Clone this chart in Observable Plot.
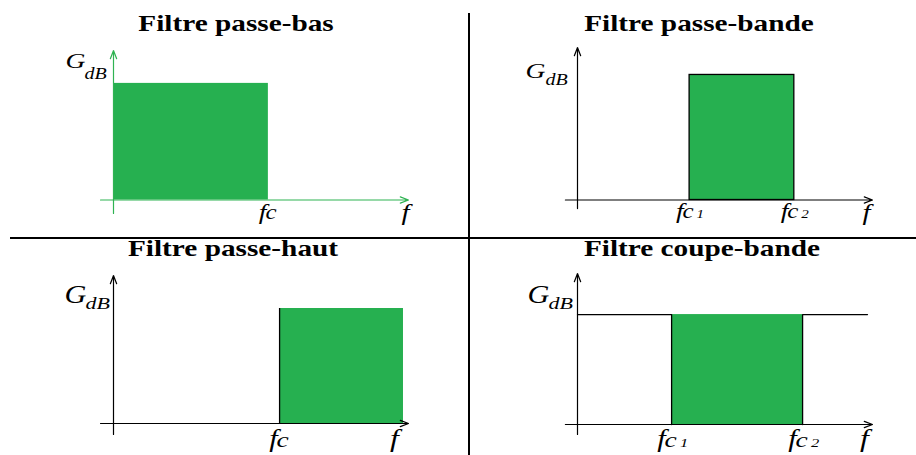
<!DOCTYPE html>
<html>
<head>
<meta charset="utf-8">
<script src="https://cdn.jsdelivr.net/npm/d3@7"></script>
<script src="https://cdn.jsdelivr.net/npm/@observablehq/plot@0.6"></script>
<style>
  html, body { margin: 0; padding: 0; background: #fff; }
  #chart { position: relative; width: 916px; height: 455px; overflow: hidden; font-family: "Liberation Serif", "Times New Roman", serif; }
  .panel { position: absolute; }
  .panel svg { overflow: visible; }
  .title { position: absolute; font-weight: bold; font-size: 24px; line-height: 24px; white-space: nowrap; color: #000;
           transform: translateX(-50%) scaleX(1.22); transform-origin: 50% 50%; }
  .divider { position: absolute; background: #000; }
</style>
</head>
<body>
<div id="chart"></div>
<script>
// ---------- data (relative units: f axis 0..1, gain axis 0..1) ----------
const titles = ["Filtre passe-bas", "Filtre passe-bande", "Filtre passe-haut", "Filtre coupe-bande"];
const kinds = ["bas", "bande", "haut", "coupe"];
const fc1 = [0.525, 0.38, 0.563, 0.319];      // first cut-off frequency
const fc2 = [null, 0.735, null, 0.763];       // second cut-off frequency
const fEnd = [null, null, 0.983, 0.983];      // end of drawn response
const gain = [0.78, 0.82, 0.777, 0.728];      // pass-band gain level
const cutoffIndex = [[""], ["1", "2"], [""], ["1", "2"]];
const yLabel = ["G", "dB"];
const xLabel = "f";

// ---------- layout / style ----------
const green = "#26b050";
const stretch = 1.25;   // horizontal stretch of the labels
const layout = [
  {left: 0,   top: 0,   width: 458, height: 237, ml: 113, mr: 50, mt: 50, mb: 37.5, axis: "#2fb352", fs: 1,
   titleX: 236, titleTop: 11, gDx: -48, gDy: 17, dbDx: -29, dbDy: 28, tickDy: 18.5, fDx: -3, fDy: 19.5, yFrom: -0.09, xFrom: -0.044},
  {left: 458, top: 0,   width: 458, height: 237, ml: 119, mr: 44, mt: 47, mb: 37.5, axis: "#000", fs: 1,
   titleX: 699, titleTop: 11, gDx: -52, gDy: 30, dbDx: -32, dbDy: 37, tickDy: 17.5, fDx: -6, fDy: 19.5, yFrom: -0.056, xFrom: -0.041},
  {left: 0,   top: 237, width: 458, height: 218, ml: 113, mr: 50, mt: 38, mb: 32, axis: "#000", fs: 1.1,
   titleX: 233, titleTop: 236, gDx: -49, gDy: 27, dbDx: -28, dbDy: 33, tickDy: 23, fDx: -14, fDy: 23, yFrom: -0.074, xFrom: -0.044},
  {left: 458, top: 237, width: 458, height: 218, ml: 119, mr: 44, mt: 36, mb: 31, axis: "#000", fs: 1.1,
   titleX: 702, titleTop: 236, gDx: -50, gDy: 29, dbDx: -29, dbDy: 35, tickDy: 22, fDx: -8, fDy: 22, yFrom: -0.066, xFrom: -0.041}
];

const chart = document.getElementById("chart");

// dividers
const vdiv = document.createElement("div");
vdiv.className = "divider";
Object.assign(vdiv.style, {left: "468px", top: "13px", width: "2px", height: "442px"});
const hdiv = document.createElement("div");
hdiv.className = "divider";
Object.assign(hdiv.style, {left: "10px", top: "236.5px", width: "906px", height: "2px"});

titles.forEach((title, i) => {
  const L = layout[i];
  const g = gain[i];
  const kind = kinds[i];

  // band drawn in green
  let band;
  if (kind === "bas") band = [{x1: 0, x2: fc1[i], y1: 0, y2: g}];
  else if (kind === "haut") band = [{x1: fc1[i], x2: fEnd[i], y1: 0, y2: g}];
  else band = [{x1: fc1[i], x2: fc2[i], y1: 0, y2: g}];

  // cut-off tick labels
  const cuts = kind === "bande" || kind === "coupe" ? [fc1[i], fc2[i]] : [fc1[i]];
  const ticks = cuts.map((f, k) => ({f, idx: cutoffIndex[i][k]}));

  const marks = [];
  marks.push(Plot.rect(band, {
    x1: "x1", x2: "x2", y1: "y1", y2: "y2", fill: green,
    stroke: kind === "bande" ? "#000" : "none", strokeWidth: 1.3
  }));
  if (kind === "haut") {
    marks.push(Plot.ruleX([{f: fc1[i], g}], {x: "f", y1: 0, y2: "g", stroke: "#000", strokeWidth: 1.3}));
  }
  if (kind === "coupe") {
    const resp = [
      {f: 0, y: g, s: 0}, {f: fc1[i], y: g, s: 0}, {f: fc1[i], y: 0, s: 0},
      {f: fc2[i], y: 0, s: 1}, {f: fc2[i], y: g, s: 1}, {f: fEnd[i], y: g, s: 1}
    ];
    marks.push(Plot.line(resp, {x: "f", y: "y", z: "s", stroke: "#000", strokeWidth: 1.3}));
  }
  // axes with arrow heads
  marks.push(Plot.arrow([{x1: L.xFrom, y1: 0, x2: 1, y2: 0}], {
    x1: "x1", y1: "y1", x2: "x2", y2: "y2", stroke: L.axis, strokeWidth: 1.2, headLength: 11, headAngle: 42
  }));
  marks.push(Plot.arrow([{x1: 0, y1: L.yFrom, x2: 0, y2: 1}], {
    x1: "x1", y1: "y1", x2: "x2", y2: "y2", stroke: L.axis, strokeWidth: 1.2, headLength: 11, headAngle: 42
  }));
  // y label G_dB
  marks.push(Plot.text([{x: 0, y: 1, t: yLabel[0]}], {
    x: "x", y: "y", text: "t", textAnchor: "start", lineAnchor: "bottom", dx: L.gDx, dy: L.gDy,
    fontSize: 22 * L.fs, fontStyle: "italic", fill: "#000"
  }));
  marks.push(Plot.text([{x: 0, y: 1, t: yLabel[1]}], {
    x: "x", y: "y", text: "t", textAnchor: "start", lineAnchor: "bottom", dx: L.dbDx, dy: L.dbDy,
    fontSize: 16 * L.fs, fontStyle: "italic", fill: "#000"
  }));
  // x label f
  marks.push(Plot.text([{x: 1, y: 0, t: xLabel}], {
    x: "x", y: "y", text: "t", textAnchor: "middle", lineAnchor: "bottom", dx: L.fDx, dy: L.fDy,
    fontSize: 23 * L.fs, fontStyle: "italic", fill: "#000"
  }));
  // cut-off labels f_c, f_c1, f_c2
  const hasIdx = ticks[0].idx !== "";
  const shift = hasIdx ? -6 : -2;
  marks.push(Plot.text(ticks, {
    x: "f", y: () => 0, text: () => "f", textAnchor: "end", lineAnchor: "bottom",
    dx: shift, dy: L.tickDy, fontSize: 22 * L.fs, fontStyle: "italic", fill: "#000"
  }));
  marks.push(Plot.text(ticks, {
    x: "f", y: () => 0, text: () => "c", textAnchor: "start", lineAnchor: "bottom",
    dx: shift - 1, dy: L.tickDy, fontSize: 20 * L.fs, fontStyle: "italic", fill: "#000"
  }));
  if (hasIdx) {
    marks.push(Plot.text(ticks, {
      x: "f", y: () => 0, text: "idx", textAnchor: "start", lineAnchor: "bottom",
      dx: shift + 13 * L.fs, dy: L.tickDy, fontSize: 12 * L.fs, fontStyle: "italic", fill: "#000"
    }));
  }

  const svg = Plot.plot({
    width: L.width, height: L.height,
    marginLeft: L.ml, marginRight: L.mr, marginTop: L.mt, marginBottom: L.mb,
    x: {domain: [0, 1], axis: null},
    y: {domain: [0, 1], axis: null},
    style: {fontFamily: "'Liberation Serif', 'Times New Roman', serif", background: "transparent", overflow: "visible"},
    marks
  });
  const wrap = document.createElement("div");
  wrap.className = "panel";
  Object.assign(wrap.style, {left: L.left + "px", top: L.top + "px", width: L.width + "px", height: L.height + "px"});
  wrap.appendChild(svg);
  chart.appendChild(wrap);

  // stretch the labels horizontally like the reference drawing
  svg.querySelectorAll("text").forEach(t => {
    const w = t.getComputedTextLength();
    if (w > 0) {
      t.setAttribute("textLength", (w * stretch).toFixed(2));
      t.setAttribute("lengthAdjust", "spacingAndGlyphs");
    }
  });

  const t = document.createElement("div");
  t.className = "title";
  t.textContent = title;
  Object.assign(t.style, {left: L.titleX + "px", top: L.titleTop + "px"});
  chart.appendChild(t);
});

chart.appendChild(vdiv);
chart.appendChild(hdiv);
</script>
</body>
</html>
